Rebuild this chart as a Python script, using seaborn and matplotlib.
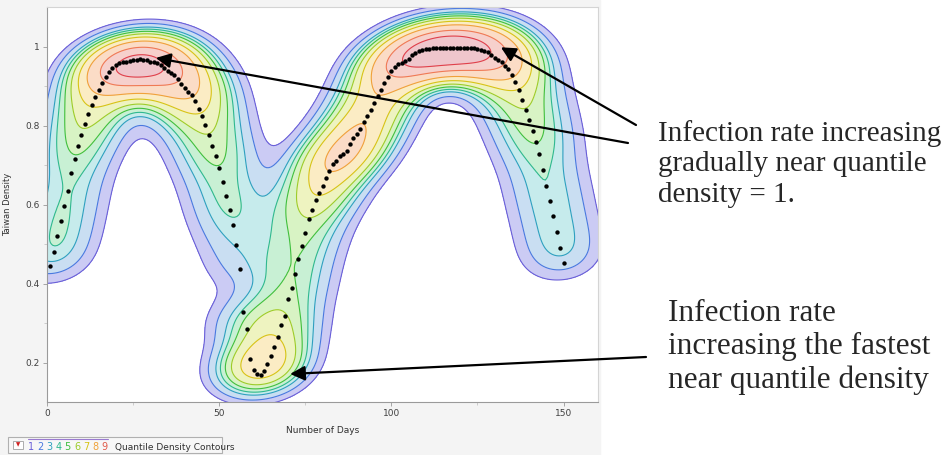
import numpy as np
import pandas as pd
import matplotlib
matplotlib.use('Agg')
import matplotlib.pyplot as plt
from matplotlib.patches import Rectangle
from matplotlib.colors import ListedColormap, BoundaryNorm
import seaborn as sns

# Day index and the quantile density value
days = list(range(1, 151))
taiwan_density = [
    0.444, 0.481, 0.520, 0.557, 0.597, 0.635, 0.679, 0.715, 0.748, 0.776,
    0.803, 0.828, 0.851, 0.873, 0.889, 0.907, 0.922, 0.936, 0.946, 0.952,
    0.957, 0.960, 0.962, 0.964, 0.965, 0.967, 0.969, 0.967, 0.965, 0.962,
    0.960, 0.957, 0.953, 0.946, 0.938, 0.933, 0.928, 0.918, 0.906, 0.896,
    0.886, 0.876, 0.862, 0.842, 0.823, 0.802, 0.776, 0.748, 0.722, 0.693,
    0.656, 0.621, 0.585, 0.547, 0.498, 0.437, 0.327, 0.286, 0.209, 0.181,
    0.170, 0.169, 0.178, 0.197, 0.216, 0.239, 0.264, 0.294, 0.317, 0.360,
    0.389, 0.424, 0.461, 0.496, 0.528, 0.564, 0.587, 0.612, 0.630, 0.647,
    0.668, 0.684, 0.703, 0.711, 0.722, 0.728, 0.735, 0.754, 0.768, 0.779,
    0.792, 0.808, 0.824, 0.840, 0.856, 0.874, 0.890, 0.907, 0.922, 0.937,
    0.949, 0.956, 0.959, 0.963, 0.968, 0.978, 0.984, 0.988, 0.991, 0.993,
    0.994, 0.995, 0.996, 0.997, 0.997, 0.997, 0.997, 0.997, 0.997, 0.997,
    0.997, 0.997, 0.996, 0.995, 0.994, 0.992, 0.989, 0.985, 0.979, 0.972,
    0.965, 0.960, 0.950, 0.942, 0.927, 0.910, 0.889, 0.865, 0.840, 0.814,
    0.787, 0.758, 0.727, 0.688, 0.648, 0.610, 0.570, 0.530, 0.490, 0.451,
]

quantile_levels = [0.05, 0.1, 0.18, 0.27, 0.36, 0.45, 0.55, 0.68, 0.8, 0.9, 1.0]
fill_colors = ['#cbcbf4', '#c9def2', '#c6ebec', '#c8f0d4', '#d8f3c4',
               '#eef3c0', '#fbecc4', '#fbdcc6', '#f6d0cc', '#efc6cc']
line_colors = ['#6a5fd8', '#4a78e0', '#2f9fc0', '#2fb890', '#3fbf3f',
               '#9ccc2a', '#d6c416', '#f0a23a', '#f07a54', '#e0404a', '#e0404a']
legend_colors = ['#6a5fd8', '#4a78e0', '#2f9fc0', '#2fb890', '#3fbf3f',
                 '#9ccc2a', '#d6c416', '#f0a23a', '#e05a4a']

note_top = 'Infection rate increasing\ngradually near quantile\ndensity = 1.'
note_bottom = 'Infection rate\nincreasing the fastest\nnear quantile density'


def recolor(cs, colors):
    # one colour per contour band / line, whatever density the levels land on
    lv = np.asarray(cs.levels, dtype=float)
    if cs.filled:
        bounds = lv
    else:
        bounds = np.append(lv, lv[-1] * 2 + 1)
    n = len(bounds) - 1
    cs.set_cmap(ListedColormap(colors[:n]))
    cs.set_norm(BoundaryNorm(bounds, n))


def main():
    x = np.asarray(days, dtype=float)
    y = np.asarray(taiwan_density, dtype=float)

    sns.set_style('white')
    fig = plt.figure(figsize=(9.45, 4.55), dpi=100)
    fig.patches.append(Rectangle((0, 0), 600 / 945, 1, transform=fig.transFigure,
                                 color='#f4f4f4', zorder=-10))
    ax = fig.add_axes([47 / 945, 1 - 402 / 455, 551 / 945, 395 / 455])
    ax.set_facecolor('white')

    bw = 0.45
    sns.kdeplot(x=x, y=y, fill=True, levels=quantile_levels, cmap='Blues',
                bw_adjust=bw, gridsize=300, ax=ax)
    recolor(ax.collections[-1], fill_colors)
    sns.kdeplot(x=x, y=y, fill=False, levels=quantile_levels, cmap='Blues',
                bw_adjust=bw, gridsize=300, linewidths=0.8, ax=ax)
    recolor(ax.collections[-1], line_colors)
    sns.scatterplot(x=x, y=y, color='black', s=10, linewidth=0, ax=ax, zorder=3)

    ax.set_xlim(0, 160)
    ax.set_ylim(0.1, 1.1)
    ax.set_xticks([0, 50, 100, 150])
    ax.set_xticks([25, 75, 125], minor=True)
    ax.set_yticks([0.2, 0.4, 0.6, 0.8, 1.0])
    ax.set_yticklabels(['0.2', '0.4', '0.6', '0.8', '1'])
    ax.set_yticks([0.3, 0.5, 0.7, 0.9], minor=True)
    ax.tick_params(axis='both', which='major', length=3, width=0.6,
                   color='#999999', labelsize=6.5, labelcolor='#404040', pad=2)
    ax.tick_params(axis='both', which='minor', length=2, width=0.5, color='#bbbbbb')
    ax.tick_params(bottom=True, left=True, which='both')
    for side in ['top', 'right']:
        ax.spines[side].set_color('#d4d4d4')
    for side in ['left', 'bottom']:
        ax.spines[side].set_color('#9a9a9a')
    for sp in ax.spines.values():
        sp.set_linewidth(0.8)
    ax.set_xlabel('Number of Days', fontsize=6.5, color='#303030', labelpad=6)
    ax.set_ylabel('Taiwan Density', fontsize=6, color='#303030', labelpad=10)

    # Bottom-left contour legend strip
    fig.patches.append(Rectangle((8 / 945, 1 - 453 / 455), 214 / 945, 16 / 455,
                                 transform=fig.transFigure, facecolor='#f7f7f7',
                                 edgecolor='#b0b0b0', linewidth=0.8))
    fig.patches.append(Rectangle((13 / 945, 1 - 449 / 455), 10 / 945, 8 / 455,
                                 transform=fig.transFigure, facecolor='white',
                                 edgecolor='#a0a0a0', linewidth=0.6))
    fig.text(18 / 945, 1 - 445 / 455, '\u25bc', fontsize=4, color='#d02020',
             ha='center', va='center')
    for i, c in enumerate(legend_colors):
        fig.text((31 + i * 9.2) / 945, 1 - 447 / 455, str(i + 1), fontsize=7,
                 color=c, ha='center', va='center')
    fig.lines.append(plt.Line2D([28 / 945, 108 / 945], [1 - 439 / 455] * 2,
                                transform=fig.transFigure, color='#9a7ad0', lw=0.8))
    fig.text(115 / 945, 1 - 447 / 455, 'Quantile Density Contours', fontsize=6.5,
             color='#303030', ha='left', va='center')

    # Annotations
    serif = ['Liberation Serif', 'DejaVu Serif']
    fig.text(658 / 945, 1 - 164 / 455, note_top, family=serif, fontsize=21,
             ha='left', va='center', linespacing=1.22)
    fig.text(668 / 945, 1 - 347 / 455, note_bottom, family=serif, fontsize=22.5,
             ha='left', va='center', linespacing=1.2)
    arrow = dict(arrowstyle='-|>', color='black', lw=1.6, mutation_scale=22,
                 shrinkA=0, shrinkB=0)
    ax.annotate('', xy=(31.6, 0.971), xycoords='data',
                xytext=(628 / 945, 1 - 143 / 455), textcoords='figure fraction',
                arrowprops=arrow, annotation_clip=False, zorder=5)
    ax.annotate('', xy=(131.8, 0.998), xycoords='data',
                xytext=(636 / 945, 1 - 125 / 455), textcoords='figure fraction',
                arrowprops=arrow, annotation_clip=False, zorder=5)
    ax.annotate('', xy=(70.6, 0.171), xycoords='data',
                xytext=(646 / 945, 1 - 357 / 455), textcoords='figure fraction',
                arrowprops=arrow, annotation_clip=False, zorder=5)

    fig.savefig('out.png', dpi=100)


if __name__ == '__main__':
    main()
